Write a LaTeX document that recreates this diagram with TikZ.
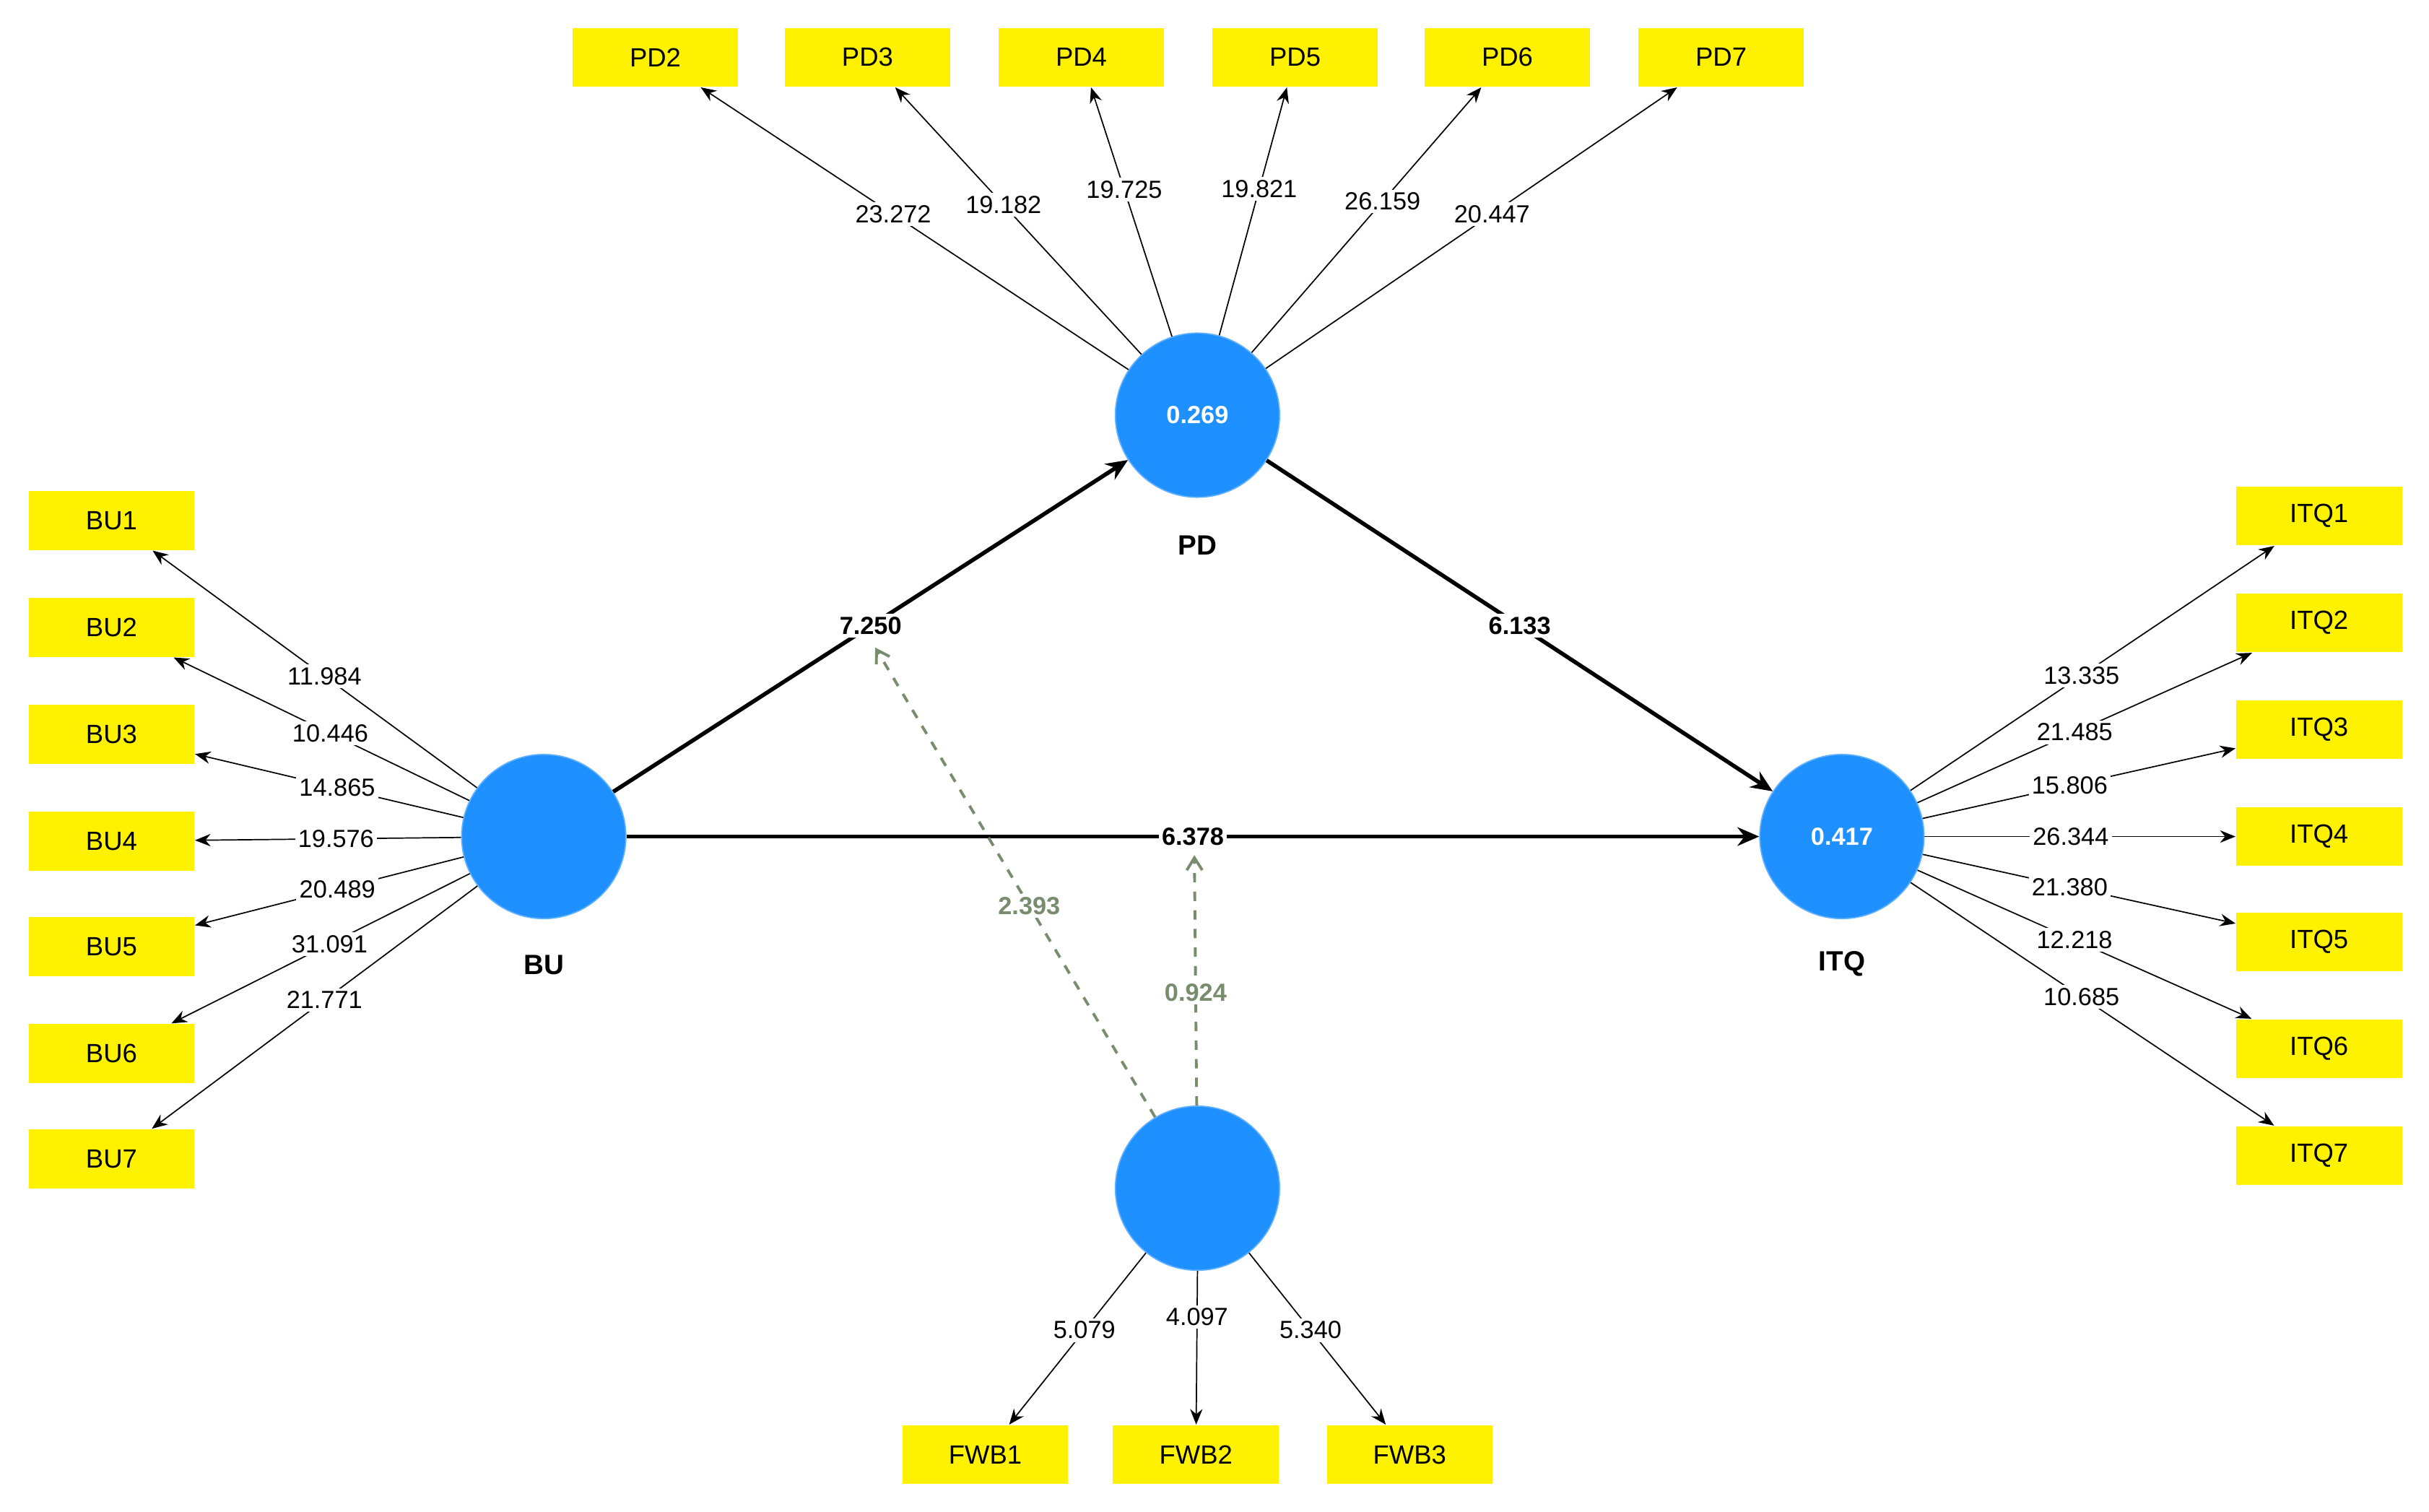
\documentclass[tikz,border=0pt]{standalone}
\usepackage{fontspec}
\setmainfont{Liberation Sans}
\usetikzlibrary{arrows.meta}
\definecolor{lv}{RGB}{30,144,255}
\definecolor{mod}{RGB}{120,140,110}
\begin{document}
\begin{tikzpicture}[x=0.5pt,y=-0.5pt,
 box/.style={fill=yellow,minimum width=53.5pt,minimum height=19pt,inner sep=0pt,font=\fontsize{8.5}{10}\selectfont},
 lvn/.style={circle,fill=lv,draw=lv!70!white,minimum size=53pt,inner sep=0pt,text=white,font=\bfseries\fontsize{8}{10}\selectfont},
 lab/.style={font=\bfseries\fontsize{9}{10}\selectfont},
 ld/.style={-{Stealth[length=5pt,width=4pt]},black,line width=0.4pt},
 lt/.style={fill=white,inner sep=1pt,font=\fontsize{8}{10}\selectfont},
 st/.style={-{Stealth[length=7pt,width=6pt]},black,line width=1.3pt},
 stl/.style={fill=white,inner sep=1pt,font=\bfseries\fontsize{8}{10}\selectfont},
 md/.style={-{Straight Barb[open,length=4pt,width=5pt]},mod,dashed,line width=0.9pt},
 ml/.style={fill=white,inner sep=1pt,text=mod,font=\bfseries\fontsize{8}{10}\selectfont}]
\useasboundingbox (0,0) rectangle (1568,976);
\fill[white] (0,0) rectangle (1568,976);
\node[lvn] (PD) at (773,268) {0.269};
\node[lvn] (BU) at (351,540) {};
\node[lvn] (ITQ) at (1189,540) {0.417};
\node[lvn] (FWB) at (773,767) {};
\node[lab] at (773,352) {PD};
\node[lab] at (351,623) {BU};
\node[lab] at (1189,622) {ITQ};
\node[lab] at (773,850) {FWB};
% PD indicators
\foreach \n/\x/\v/\p in {2/423/23.272/0.55,3/560/19.182/0.56,4/698/19.725/0.59,5/836/19.821/0.59,6/973/26.159/0.57,7/1111/20.447/0.55}{
 \node[box] (PD\n) at (\x,37) {PD\n};
 \draw[ld] (PD) -- (PD\n) node[lt,pos=\p] {\v};
}
% BU indicators
\foreach \n/\y/\v in {1/336/11.984,2/405/10.446,3/474/14.865,4/543/19.576,5/611/20.489,6/680/31.091,7/748/21.771}{
 \node[box] (BU\n) at (72,\y) {BU\n};
 \draw[ld] (BU) -- (BU\n) node[lt,pos=0.47] {\v};
}
% ITQ indicators
\foreach \n/\y/\v in {1/333/13.335,2/402/21.485,3/471/15.806,4/540/26.344,5/608/21.380,6/677/12.218,7/746/10.685}{
 \node[box] (ITQ\n) at (1497,\y) {ITQ\n};
 \draw[ld] (ITQ) -- (ITQ\n) node[lt,pos=0.47] {\v};
}
% FWB indicators
\foreach \n/\x/\v in {1/636/5.079,2/772/4.097,3/910/5.340}{
 \node[box] (FWB\n) at (\x,939) {FWB\n};
}
\draw[ld] (FWB) -- (FWB1) node[lt,pos=0.45] {5.079};
\draw[ld] (FWB.south) -- (FWB2) node[lt,pos=0.3] {4.097};
\draw[ld] (FWB) -- (FWB3) node[lt,pos=0.45] {5.340};
% structural
\draw[st] (BU) -- (PD) coordinate[pos=0.5] (m1) node[stl,pos=0.5] {7.250};
\draw[st] (PD) -- (ITQ) node[stl,pos=0.5] {6.133};
\draw[st] (BU) -- (ITQ) coordinate[pos=0.5] (m2) node[stl,pos=0.5] {6.378};
% moderation
\coordinate (t1) at (565,418);
\coordinate (t2) at (771,552);
\draw[md] (FWB) -- (t1) node[ml,pos=0.45] {2.393};
\draw[md] (FWB) -- (t2) node[ml,pos=0.45] {0.924};
\end{tikzpicture}
\end{document}
